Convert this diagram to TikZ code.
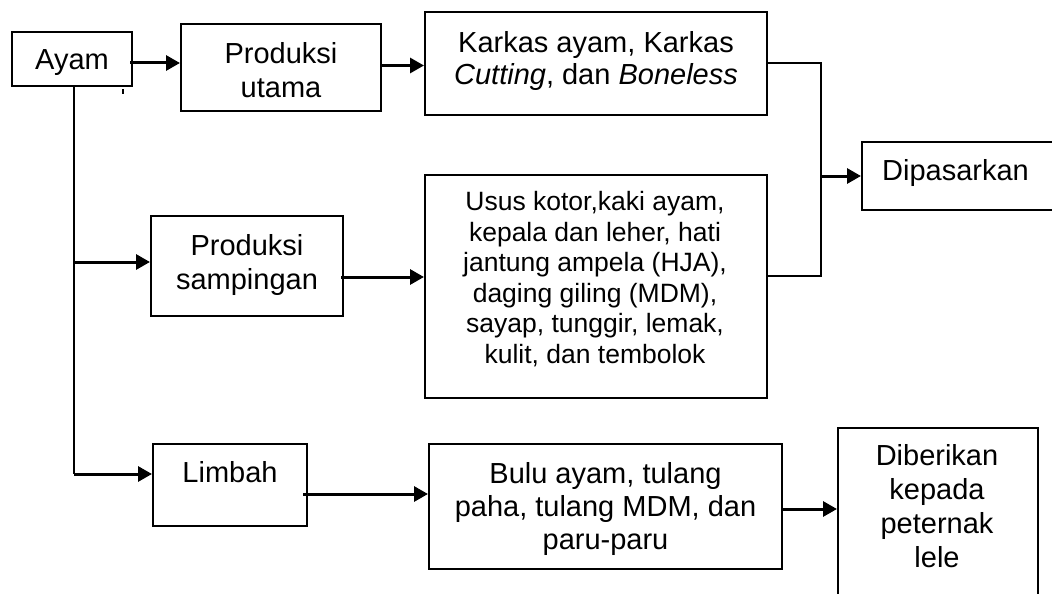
\documentclass[tikz,border=0pt]{standalone}
\usepackage{fontspec}
\setmainfont{Liberation Sans}
\usetikzlibrary{arrows.meta,calc}
\begin{document}
\begin{tikzpicture}[x=1pt,y=-1pt,
  box/.style={draw, line width=2pt, rectangle, inner sep=0pt},
  txt/.style={font=\fontsize{29}{34}\selectfont, align=center, inner sep=0pt, anchor=north},
  arr/.style={line width=3pt, -{Triangle[length=14pt,width=15pt]}},
  conn/.style={line width=2pt}]
\useasboundingbox (0,0) rectangle (1052,594);
\clip (0,0) rectangle (1052,594);

% boxes
\node[box, minimum width=120pt, minimum height=54pt]  (ayam)  at (72,59) {};
\node[box, minimum width=200pt, minimum height=87pt]  (pu)    at (281,67.5) {};
\node[box, minimum width=342pt, minimum height=103pt] (kar)   at (596,63.5) {};
\node[box, minimum width=230pt, minimum height=68pt, anchor=west] (dip) at (861,176) {};
\node[box, minimum width=192pt, minimum height=100pt] (ps)    at (247,266) {};
\node[box, minimum width=342pt, minimum height=223pt] (usus)  at (596,286) {};
\node[box, minimum width=154pt, minimum height=82pt]  (lim)   at (230,485) {};
\node[box, minimum width=353pt, minimum height=125pt] (bulu)  at (605.5,506.5) {};
\node[box, minimum width=200pt, minimum height=200pt, anchor=north west] (dib) at (837,427) {};

% texts
\node[txt] (ayam-t) at (72,49.2) {Ayam};
\node[txt] (pu-t)   at (281,42.2) {Produksi\\utama};
\node[txt, font=\fontsize{29}{32}\selectfont] (kar-t) at (596,31.5)
  {Karkas ayam, Karkas\\\textit{Cutting}, dan \textit{Boneless}};
\node[txt, anchor=north west] (dip-t) at (882,159.2) {Dipasarkan};
\node[txt] (ps-t)   at (247,234.2) {Produksi\\sampingan};
\node[txt, font=\fontsize{26.5}{30.6}\selectfont] (usus-t) at (595,191)
  {Usus kotor,kaki ayam,\\kepala dan leher, hati\\jantung ampela (HJA),\\daging giling (MDM),\\sayap, tunggir, lemak,\\kulit, dan tembolok};
\node[txt] (lim-t)  at (230,461.2) {Limbah};
\node[txt, font=\fontsize{29}{33}\selectfont] (bulu-t) at (605.5,462.2)
  {Bulu ayam, tulang\\paha, tulang MDM, dan\\paru-paru};
\node[txt] (dib-t)  at (937,444.2) {Diberikan\\kepada\\peternak\\lele};

% connectors
\coordinate (a1) at ($(ayam.east)+(-3,4)$);
\draw[arr] (a1) -- (a1 -| pu.west);

\coordinate (t0) at ($(ayam.south)+(2,0)$);
\coordinate (b1) at ($(t0 |- ps.west)+(0,-4)$);
\coordinate (b2) at ($(t0 |- lim.west)+(0,-11)$);
\draw[conn] (t0) -- (b2);
\draw[arr] (b1) -- (b1 -| ps.west);
\draw[arr] (b2) -- (b2 -| lim.west);

\coordinate (p1) at ($(pu.east)+(0,-2)$);
\draw[arr] (p1) -- (p1 -| kar.west);

\coordinate (s1) at ($(ps.east)+(-3,11)$);
\draw[arr] (s1) -- (s1 -| usus.west);

\coordinate (jn) at ($(dip.west)+(-40,0)$);
\draw[conn] (kar.east) -| (jn) |- ($(usus.east)+(0,-10)$);
\draw[arr] (jn) -- (dip.west);

\coordinate (l1) at ($(lim.east)+(-5,9)$);
\draw[arr] (l1) -- (l1 -| bulu.west);

\coordinate (u1) at ($(bulu.east)+(0,2.5)$);
\draw[arr] (u1) -- (u1 -| dib.west);

% small stray tick below the first box
\draw[line width=1.2pt] (123,89) -- (123,94);
\end{tikzpicture}
\end{document}
